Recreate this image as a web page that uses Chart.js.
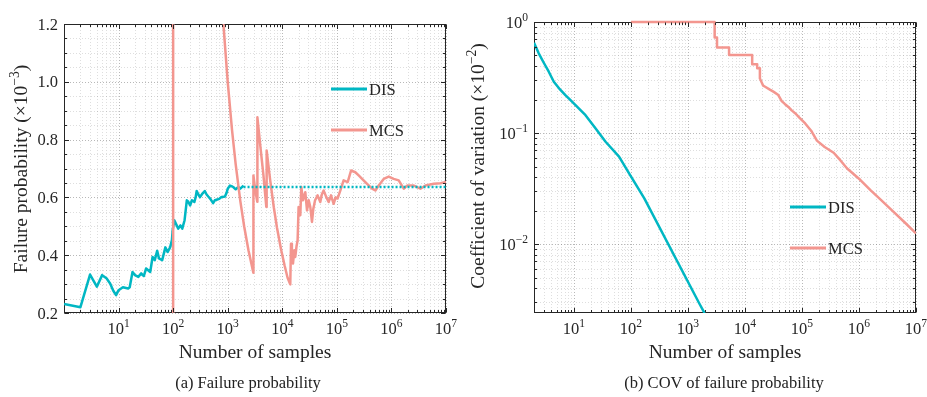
<!DOCTYPE html>
<html>
<head>
<meta charset="utf-8">
<script src="https://cdn.jsdelivr.net/npm/chart.js@4.4.1/dist/chart.umd.min.js"></script>
<style>
  body { margin: 0; background: #fff; }
  #wrap { position: relative; width: 927px; height: 397px; font-family: 'Liberation Serif', 'DejaVu Serif', serif; color: #222; }
  canvas { position: absolute; top: 0; }
  .cap { position: absolute; top: 373px; font-size: 16.5px; line-height: 20px; white-space: nowrap; transform: translateX(-50%); }
</style>
</head>
<body>
<div id="wrap">
  <canvas id="pfChart" width="463" height="397" style="left:0"></canvas>
  <canvas id="covChart" width="464" height="397" style="left:463px"></canvas>
  <div class="cap" style="left:248px">(a) Failure probability</div>
  <div class="cap" style="left:724px">(b) COV of failure probability</div>
</div>
<script>
const FONT = "'Liberation Serif', 'DejaVu Serif', serif";
const TEAL = '#00b7c3';
const PINK = '#f3968f';
const INK = '#262626';

// --- (a) failure probability (x 1e-3) vs number of samples ---
const disN = [1, 2, 3, 4, 5, 6, 7, 8, 9, 10, 12, 15, 16, 18, 20, 23, 26, 29, 32, 38,
  42, 46, 51, 55, 63, 72, 79, 88, 95, 98, 105, 115, 124, 136, 147, 162, 178, 190, 205, 220,
  245, 258, 270, 290, 310, 340, 380, 410, 440, 480, 540, 580, 625, 700, 770, 800, 890, 950, 1000, 1100,
  1200, 1260, 1400, 1560, 1700, 1950];
const disPf = [0.231, 0.220, 0.333, 0.291, 0.331, 0.32, 0.302, 0.277, 0.262, 0.279, 0.289, 0.285, 0.289, 0.342, 0.331, 0.325, 0.337, 0.328, 0.354, 0.342,
  0.394, 0.383, 0.415, 0.389, 0.383, 0.427, 0.411, 0.427, 0.452, 0.486, 0.521, 0.505, 0.492, 0.503, 0.492, 0.521, 0.590, 0.585, 0.572, 0.59,
  0.584, 0.60, 0.622, 0.61, 0.601, 0.612, 0.622, 0.61, 0.603, 0.595, 0.580, 0.59, 0.592, 0.595, 0.601, 0.601, 0.603, 0.615, 0.63, 0.641,
  0.638, 0.636, 0.628, 0.636, 0.63, 0.641];
// converged DIS estimate, carried on to the end of the axis
const disRefN = [1950, 1e7];
const disRefPf = [0.636, 0.636];

const mcsN = [1, 100, 100, 150, 200, 300, 500, 700, 833, 1000, 1200, 1400, 1700, 2000, 2400, 2950, 2960, 3200, 3480, 3500,
  4000, 4500, 5100, 5170, 6000, 7000, 8000, 9500, 11000, 12500, 14000, 14450, 15000, 15700, 16600, 17300, 18200, 19100, 19900, 21400,
  22300, 23900, 26400, 28400, 30500, 32600, 35000, 37000, 39900, 44400, 49700, 53000, 57200, 64100, 70700, 78200, 87300, 95000, 103000, 116000,
  133000, 158000, 182000, 218000, 251000, 290000, 358000, 442000, 508000, 585000, 722000, 892000, 1100000, 1360000, 1680000, 1940000, 2570000, 3410000, 4200000, 5970000,
  7940000, 10000000];
const mcsPf = [0, 0, 10, 6.67, 5, 3.33, 2, 1.43, 1.2, 1.0, 0.833, 0.714, 0.588, 0.5, 0.417, 0.339, 0.676, 0.625, 0.585, 0.877,
  0.77, 0.68, 0.567, 0.762, 0.66, 0.565, 0.495, 0.42, 0.365, 0.322, 0.299, 0.44, 0.40, 0.371, 0.417, 0.394, 0.43, 0.452, 0.567, 0.538,
  0.636, 0.59, 0.618, 0.555, 0.59, 0.567, 0.515, 0.56, 0.59, 0.607, 0.584, 0.61, 0.624, 0.601, 0.584, 0.607, 0.578, 0.60, 0.596, 0.624,
  0.659, 0.653, 0.693, 0.687, 0.676, 0.664, 0.647, 0.630, 0.624, 0.641, 0.664, 0.672, 0.664, 0.659, 0.630, 0.641, 0.641, 0.630, 0.641, 0.647,
  0.649, 0.653];

// --- (b) coefficient of variation (x 1e-2) ---
const covDisN = [2, 2.42, 3, 3.63, 4.45, 5.5, 7.1, 8.74, 16, 24.1, 36, 62, 93, 172, 1585, 2000];
const covDisV = [0.651, 0.522, 0.425, 0.357, 0.29, 0.253, 0.22, 0.198, 0.145, 0.110, 0.0835, 0.0613, 0.0434, 0.0258, 0.00292, 0.00235];

const covMcsN = [100, 2945, 2945, 3240, 3240, 5270, 5270, 13400, 13400, 16400, 16400, 18300, 18300, 20900, 23000, 27400, 32000, 38500, 44200, 50000,
  57800, 66000, 75800, 90000, 114000, 145000, 183000, 250000, 360000, 470000, 620000, 1050000, 1590000, 2450000, 4000000, 6500000, 10000000];
const covMcsV = [1, 1, 0.727, 0.727, 0.588, 0.588, 0.505, 0.505, 0.416, 0.416, 0.384, 0.384, 0.31, 0.267, 0.26, 0.246, 0.235, 0.22, 0.194, 0.183,
  0.172, 0.16, 0.151, 0.138, 0.122, 0.105, 0.0855, 0.075, 0.0665, 0.057, 0.048, 0.038, 0.0306, 0.0249, 0.0196, 0.0155, 0.0125];

// tick labels
const xTickExp = [1, 2, 3, 4, 5, 6, 7];
const pfTicks = [0.2, 0.4, 0.6, 0.8, 1.0, 1.2];
const covTickExp = [0, -1, -2];

const pts = (xs, ys) => xs.map((x, i) => ({ x, y: ys[i] }));

// log ticks 1..9 x 10^k inside [min, max]
function logTicks(min, max) {
  const out = [];
  for (let k = Math.floor(Math.log10(min)) - 1; k <= Math.ceil(Math.log10(max)); k++) {
    for (let m = 1; m <= 9; m++) {
      const v = m * Math.pow(10, k);
      if (v >= min * 0.9999 && v <= max * 1.0001) out.push({ v, major: m === 1 });
    }
  }
  return out;
}

function linTicks(min, max, minor, step) {
  const out = [];
  const n = Math.round((max - min) / minor);
  for (let i = 0; i <= n; i++) {
    const v = min + i * minor;
    out.push({ v, major: Math.abs(v / step - Math.round(v / step)) < 1e-6 });
  }
  return out;
}

// text with superscript pieces: parts = [[text, isSup], ...]
function drawParts(ctx, parts, x, y, align, size) {
  const big = size + 'px ' + FONT, small = (size * 0.7) + 'px ' + FONT;
  const ws = parts.map(p => { ctx.font = p[1] ? small : big; return ctx.measureText(p[0]).width; });
  const total = ws.reduce((a, b) => a + b, 0);
  let cx = align === 'center' ? x - total / 2 : align === 'right' ? x - total : x;
  ctx.textAlign = 'left';
  ctx.textBaseline = 'alphabetic';
  parts.forEach((p, i) => {
    ctx.font = p[1] ? small : big;
    ctx.fillText(p[0], cx, p[1] ? y - size * 0.42 : y);
    cx += ws[i];
  });
}

const pow10 = e => [['10', 0], [String(e).replace('-', '\u2212'), 1]];

function frameBox(a) {
  return { L: Math.round(a.left) + 0.5, R: Math.round(a.right) - 0.5, T: Math.round(a.top) + 0.5, B: Math.round(a.bottom) - 0.5 };
}

const axisDeco = {
  id: 'axisDeco',
  // dotted grid and the axes box go under the curves
  beforeDatasetsDraw(chart, args, o) {
    const { ctx, chartArea: a, scales: { x, y } } = chart;
    ctx.save();
    ctx.lineWidth = 1;
    ctx.setLineDash([1, 2]);
    logTicks(x.min, x.max).forEach(t => {
      const px = Math.round(x.getPixelForValue(t.v)) + 0.5;
      ctx.strokeStyle = t.major ? 'rgba(0,0,0,0.28)' : 'rgba(0,0,0,0.13)';
      ctx.beginPath(); ctx.moveTo(px, a.top); ctx.lineTo(px, a.bottom); ctx.stroke();
    });
    const yt = o.yLog ? logTicks(y.min, y.max) : linTicks(y.min, y.max, o.yMinor, o.yStep);
    yt.forEach(t => {
      const py = Math.round(y.getPixelForValue(t.v)) + 0.5;
      ctx.strokeStyle = t.major ? 'rgba(0,0,0,0.28)' : 'rgba(0,0,0,0.13)';
      ctx.beginPath(); ctx.moveTo(a.left, py); ctx.lineTo(a.right, py); ctx.stroke();
    });
    ctx.setLineDash([]);
    const { L, R, T, B } = frameBox(a);
    ctx.strokeStyle = INK;
    ctx.strokeRect(L, T, R - L, B - T);
    ctx.restore();
  },
  afterDatasetsDraw(chart, args, o) {
    const { ctx, chartArea: a, scales: { x, y } } = chart;
    const { L, R, T, B } = frameBox(a);
    ctx.save();
    ctx.strokeStyle = INK;
    ctx.fillStyle = INK;
    ctx.lineWidth = 1;

    // inward ticks on all four sides
    ctx.beginPath();
    logTicks(x.min, x.max).forEach(t => {
      const px = Math.round(x.getPixelForValue(t.v)) + 0.5, len = t.major ? 4.5 : 2.5;
      ctx.moveTo(px, B); ctx.lineTo(px, B - len);
      ctx.moveTo(px, T); ctx.lineTo(px, T + len);
    });
    const yt = o.yLog ? logTicks(y.min, y.max) : linTicks(y.min, y.max, o.yMinor, o.yStep);
    yt.forEach(t => {
      const py = Math.round(y.getPixelForValue(t.v)) + 0.5, len = t.major ? 4.5 : 2.5;
      ctx.moveTo(L, py); ctx.lineTo(L + len, py);
      ctx.moveTo(R, py); ctx.lineTo(R - len, py);
    });
    ctx.stroke();

    // tick labels
    xTickExp.forEach(e => {
      drawParts(ctx, pow10(e), x.getPixelForValue(Math.pow(10, e)), a.bottom + 21, 'center', 16.5);
    });
    if (o.yLog) {
      covTickExp.forEach(e => drawParts(ctx, pow10(e), a.left - 6, y.getPixelForValue(Math.pow(10, e)) + 5.5, 'right', 16.5));
    } else {
      pfTicks.forEach(v => drawParts(ctx, [[v.toFixed(1), 0]], a.left - 6, y.getPixelForValue(v) + 5.5, 'right', 16.5));
    }

    // axis titles
    drawParts(ctx, [['Number of samples', 0]], (a.left + a.right) / 2, 358, 'center', 19.5);
    ctx.save();
    ctx.translate(o.yTitleX, o.yTitleY);
    ctx.rotate(-Math.PI / 2);
    drawParts(ctx, o.yTitle, 0, 0, 'center', 19.5);
    ctx.restore();

    // legend
    const lg = o.legend;
    [0, 1].forEach((di, i) => {
      const ds = chart.data.datasets[di];
      const ly = lg.ys[i];
      ctx.strokeStyle = ds.borderColor;
      ctx.lineWidth = 3;
      ctx.beginPath(); ctx.moveTo(lg.x0, ly); ctx.lineTo(lg.x1, ly); ctx.stroke();
      ctx.fillStyle = INK;
      drawParts(ctx, [[ds.label, 0]], lg.tx, ly + 5.5, 'left', 16.5);
    });
    ctx.restore();
  }
};

function baseOptions(pad, xScale, yScale, deco) {
  return {
    responsive: false,
    animation: false,
    events: [],
    layout: { padding: pad },
    elements: { point: { radius: 0 }, line: { tension: 0, borderWidth: 2.5, borderCapStyle: 'butt', borderJoinStyle: 'round' } },
    scales: { x: xScale, y: yScale },
    plugins: { legend: { display: false }, tooltip: { enabled: false }, axisDeco: deco }
  };
}

new Chart(document.getElementById('pfChart'), {
  type: 'line',
  data: {
    datasets: [
      { label: 'DIS', data: pts(disN, disPf), borderColor: TEAL, order: 2 },
      { label: 'MCS', data: pts(mcsN, mcsPf), borderColor: PINK, order: 1 },
      { label: 'DIS limit', data: pts(disRefN, disRefPf), borderColor: TEAL, borderDash: [2, 2], order: 0 }
    ]
  },
  options: baseOptions(
    { left: 64, right: 17, top: 24, bottom: 84 },
    { type: 'logarithmic', min: 1, max: 1e7, display: false },
    { type: 'linear', min: 0.2, max: 1.2, display: false },
    {
      yLog: false, yMinor: 0.05, yStep: 0.2,
      yTitle: [['Failure probability (\u00d710', 0], ['\u22123', 1], [')', 0]],
      yTitleX: 27, yTitleY: 169,
      legend: { x0: 331, x1: 367, tx: 369, ys: [89, 130] }
    }
  ),
  plugins: [axisDeco]
});

new Chart(document.getElementById('covChart'), {
  type: 'line',
  data: {
    datasets: [
      { label: 'DIS', data: pts(covDisN, covDisV), borderColor: TEAL, order: 2 },
      // the flat start sits on the top edge, so let it show across the frame
      { label: 'MCS', data: pts(covMcsN, covMcsV), borderColor: PINK, order: 1, clip: { left: 0, top: 3, right: 0, bottom: 0 } }
    ]
  },
  options: baseOptions(
    { left: 71, right: 11, top: 22, bottom: 84 },
    { type: 'logarithmic', min: 2, max: 1e7, display: false },
    { type: 'logarithmic', min: 0.0024, max: 1, display: false },
    {
      yLog: true,
      yTitle: [['Coefficient of variation (\u00d710', 0], ['\u22122', 1], [')', 0]],
      yTitleX: 21, yTitleY: 166,
      legend: { x0: 327, x1: 363, tx: 365, ys: [207, 248] }
    }
  ),
  plugins: [axisDeco]
});
</script>
</body>
</html>
